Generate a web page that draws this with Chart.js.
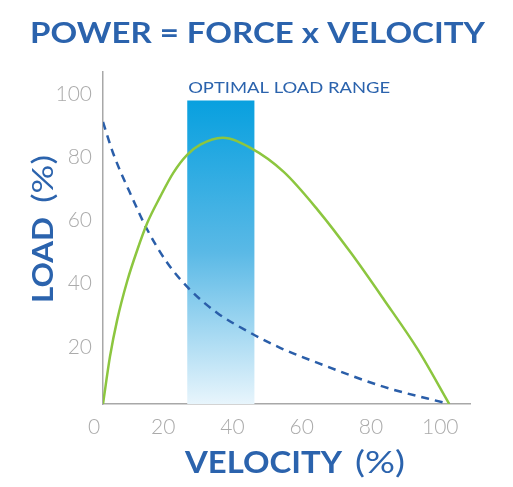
<!DOCTYPE html>
<html>
<head>
<meta charset="utf-8">
<script src="https://cdn.jsdelivr.net/npm/chart.js@4"></script>
<style>
  html, body { margin: 0; padding: 0; background: #fff; }
  #wrap { position: relative; width: 513px; height: 487px; }
</style>
</head>
<body>
<div id="wrap"><canvas id="chart"></canvas></div>
<script>
// force curve (dashed): load drops as velocity rises
const forceVelocity = [0, 2.9, 8.7, 12.8, 18.6, 25.2, 33.0, 42.6, 51.3, 62.0, 81.2, 100];
const forceLoad = [89.2, 79.4, 64.6, 55.1, 44.6, 36.1, 28.8, 22.5, 17.7, 13.0, 5.4, 0];

// power curve (green)
const powerVelocity = [0, 2.0, 4.1, 7.0, 9.9, 12.8, 16.5, 20.3, 24.3, 28.1, 34.5, 42.6, 52.2, 62.0, 71.6, 81.2, 91.0, 100];
const powerLoad = [0, 14.9, 26.6, 38.9, 48.7, 57.3, 65.5, 73.1, 78.8, 82.0, 84.2, 81.0, 73.4, 61.4, 47.8, 32.9, 17.1, 0];

// optimal load range band
const optimalRange = [24.3, 43.8];
const optimalTop = 96;
const optimalLabel = "OPTIMAL LOAD RANGE";

const tickValues = [0, 20, 40, 60, 80, 100];
const chartTitle = "POWER = FORCE x VELOCITY";

const blue = "#2b63ad";

function toPoints(xs, ys) {
    return xs.map((x, i) => ({ x: x, y: ys[i] }));
}

// draw text squeezed/stretched to a given width
function fitText(ctx, text, x, y, width) {
    const w = ctx.measureText(text).width;
    ctx.save();
    ctx.translate(x, y);
    ctx.scale(width / w, 1);
    ctx.fillText(text, 0, 0);
    ctx.restore();
}

const textPlugin = {
    id: "texts",
    afterDraw(chart) {
        const ctx = chart.ctx;
        const xs = chart.scales.x;
        const ys = chart.scales.y;
        ctx.save();
        ctx.fillStyle = blue;
        ctx.textBaseline = "alphabetic";
        ctx.textAlign = "left";

        ctx.font = "bold 28px Lato";
        fitText(ctx, chartTitle, 30, 43, 455);

        ctx.font = "bold 30px Lato";
        fitText(ctx, "VELOCITY", 185, 473, 157);
        ctx.font = "30px Lato";
        fitText(ctx, "(%)", 355, 473, 50);

        ctx.save();
        ctx.translate(53, 303);
        ctx.rotate(-Math.PI / 2);
        ctx.font = "bold 29px Lato";
        fitText(ctx, "LOAD", 0, 0, 86);
        ctx.font = "29px Lato";
        fitText(ctx, "(%)", 100, 0, 48);
        ctx.restore();

        ctx.font = "16px Lato";
        fitText(ctx, optimalLabel, xs.getPixelForValue(optimalRange[0]) + 1, ys.getPixelForValue(optimalTop) - 7, 202);
        ctx.restore();
    }
};

const ctx = document.getElementById("chart").getContext("2d");

new Chart(ctx, {
    type: "line",
    data: {
        datasets: [
            {
                label: "Power",
                data: toPoints(powerVelocity, powerLoad),
                borderColor: "#8cc63f",
                borderWidth: 2.5,
                pointRadius: 0,
                fill: false,
                cubicInterpolationMode: "monotone",
                order: 1,
            },
            {
                label: "Force",
                data: toPoints(forceVelocity, forceLoad),
                borderColor: "#2a5ea9",
                borderWidth: 2.5,
                borderDash: [8, 6],
                pointRadius: 0,
                fill: false,
                cubicInterpolationMode: "monotone",
                order: 2,
            },
            {
                label: "Optimal load range",
                data: toPoints(optimalRange, [optimalTop, optimalTop]),
                borderWidth: 0,
                borderColor: "rgba(0,0,0,0)",
                pointRadius: 0,
                fill: "origin",
                order: 3,
                backgroundColor: (c) => {
                    const area = c.chart.chartArea;
                    if (!area) return "#5bbbe8";
                    const top = c.chart.scales.y.getPixelForValue(optimalTop);
                    const g = c.chart.ctx.createLinearGradient(0, top, 0, area.bottom);
                    g.addColorStop(0, "#08a0df");
                    g.addColorStop(0.5, "#5ab9e6");
                    g.addColorStop(1, "#e8f5fc");
                    return g;
                },
            },
        ],
    },
    options: {
        responsive: true,
        maintainAspectRatio: false,
        animation: false,
        layout: { padding: { top: 72, right: 43, left: 0, bottom: 0 } },
        plugins: {
            legend: { display: false },
            tooltip: { enabled: false },
        },
        scales: {
            x: {
                type: "linear",
                min: 0,
                max: 106,
                grid: { display: false },
                border: { display: true, color: "#a8a8a8", width: 1.5 },
                afterBuildTicks: (s) => { s.ticks = tickValues.map(v => ({ value: v })); },
                afterFit: (s) => { s.height = 83; },
                ticks: {
                    color: "#ababab",
                    font: { family: "Lato", size: 21, weight: "300" },
                    padding: 3,
                    labelOffset: -9,
                    maxRotation: 0,
                },
            },
            y: {
                type: "linear",
                min: 0,
                max: 105,
                grid: { display: false },
                border: { display: true, color: "#a8a8a8", width: 1.5 },
                afterBuildTicks: (s) => { s.ticks = tickValues.filter(v => v > 0).map(v => ({ value: v })); },
                afterFit: (s) => { s.width = 103; },
                ticks: {
                    color: "#ababab",
                    font: { family: "Lato", size: 21, weight: "300" },
                    padding: 3,
                    labelOffset: 6,
                },
            },
        },
    },
    plugins: [textPlugin],
});
</script>
</body>
</html>
